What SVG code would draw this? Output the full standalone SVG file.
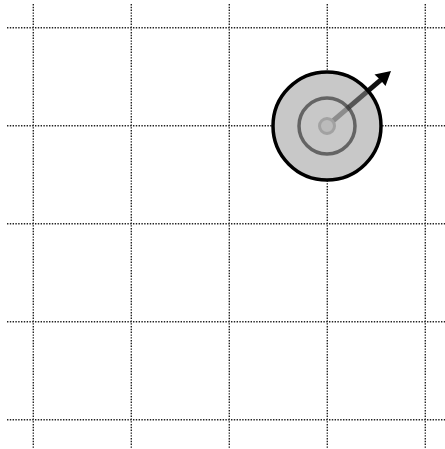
<svg xmlns="http://www.w3.org/2000/svg" width="445" height="449" viewBox="0 0 445 449">
  <style>
    .grid line { stroke: #222; stroke-width: 1.4; stroke-dasharray: 1.4 1.4; }
  </style>
  <rect width="445" height="449" fill="#fff"/>
  <g id="grid" class="grid">
    <line x1="33.3" y1="4" x2="33.3" y2="449"/>
    <line x1="131.3" y1="4" x2="131.3" y2="449"/>
    <line x1="229.3" y1="4" x2="229.3" y2="449"/>
    <line x1="327.3" y1="4" x2="327.3" y2="449"/>
    <line x1="425.3" y1="4" x2="425.3" y2="449"/>
    <line x1="7" y1="27.7" x2="445" y2="27.7"/>
    <line x1="7" y1="125.7" x2="445" y2="125.7"/>
    <line x1="7" y1="223.7" x2="445" y2="223.7"/>
    <line x1="7" y1="321.7" x2="445" y2="321.7"/>
    <line x1="7" y1="419.7" x2="445" y2="419.7"/>
  </g>
  <g id="target">
    <circle cx="327" cy="126" r="54" fill="#c8c8c8"/>
    <g id="arrow">
      <line x1="327" y1="126" x2="349" y2="107.1" stroke="#8c8c8c" stroke-width="5"/>
      <line x1="349" y1="107.1" x2="368" y2="90.8" stroke="#555" stroke-width="5"/>
      <line x1="368" y1="90.8" x2="382" y2="78.8" stroke="#111" stroke-width="5"/>
      <polygon points="391,71 385.5,86 380.5,80 374.5,74.5" fill="#000"/>
    </g>
    <circle cx="327" cy="126" r="28" fill="none" stroke="#000" stroke-opacity="0.5" stroke-width="3.5"/>
    <circle cx="327" cy="126" r="7.5" fill="#bbb" stroke="#a2a2a2" stroke-width="3"/>
    <circle cx="327" cy="126" r="54" fill="none" stroke="#000" stroke-width="3.5"/>
  </g>
</svg>
